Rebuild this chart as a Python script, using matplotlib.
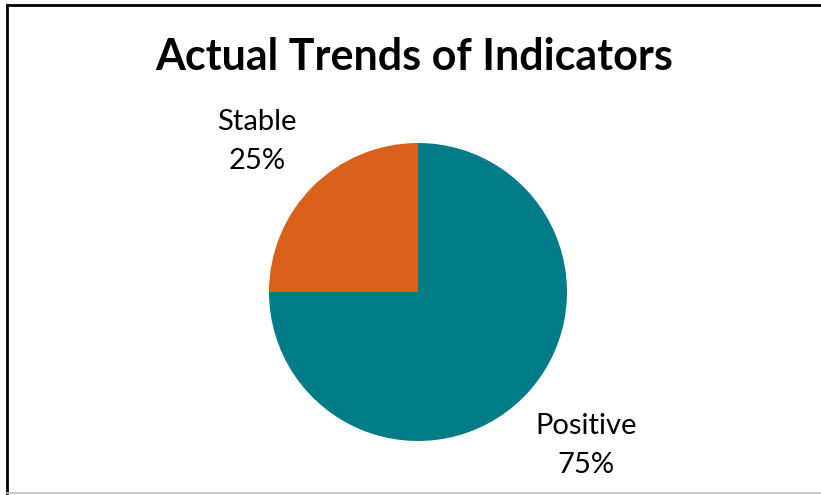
import matplotlib
matplotlib.use("Agg")
import matplotlib.pyplot as plt
from matplotlib.lines import Line2D

categories = ["Positive", "Stable"]
shares = [75, 25]
colors = ["#007C89", "#D9601A"]
title = "Actual Trends of Indicators"

plt.rcParams["font.family"] = ["Lato", "DejaVu Sans"]

W, H = 821, 495
fig = plt.figure(figsize=(W / 100, H / 100), dpi=100)

# pie area: centre (418, 292) px, radius 149 px
cx, cy, r = 418, 292, 149
ax = fig.add_axes([(cx - r) / W, (H - cy - r) / H, 2 * r / W, 2 * r / H])

labels = [f"{c}\n{v}%" for c, v in zip(categories, shares)]
wedges, texts = ax.pie(shares, colors=colors, startangle=90, counterclock=False,
                       labels=labels, labeldistance=1.5, radius=1,
                       wedgeprops=dict(linewidth=0),
                       textprops=dict(fontsize=21, linespacing=1.65))

# label placement (in units of the pie radius)
label_xy = [(1.13, -1.03), (-1.08, 1.01)]
for t, xy in zip(texts, label_xy):
    t.set_position(xy)
    t.set_ha("center")
    t.set_va("center")
ax.set_xlim(-1, 1)
ax.set_ylim(-1, 1)
ax.set_aspect("equal")

fig.text(414 / W, 1 - 57 / H, title, ha="center", va="center",
         fontsize=31, fontweight="bold")

# chart frame
def px_line(x0, y0, x1, y1, **kw):
    fig.add_artist(Line2D([x0 / W, x1 / W], [1 - y0 / H, 1 - y1 / H],
                          transform=fig.transFigure, **kw))

px_line(7, 5, W, 5, color="black", lw=2)
px_line(7, 5, 7, 493, color="black", lw=2)
px_line(7, 493, W, 493, color="#BFBFBF", lw=1.2)

fig.savefig("out.png", dpi=100)
